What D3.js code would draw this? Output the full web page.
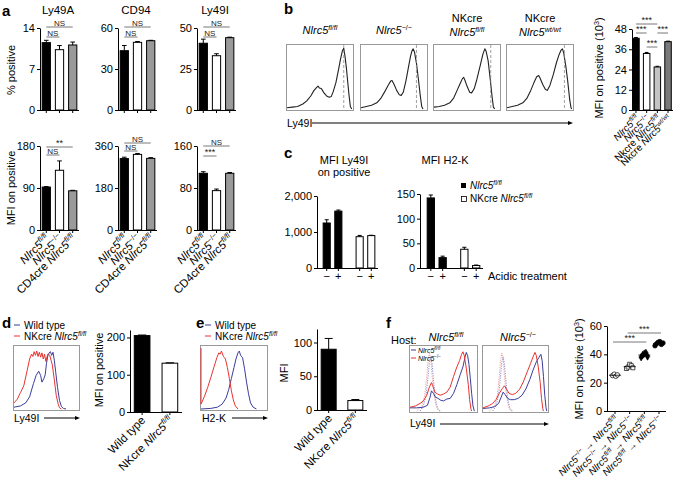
<!DOCTYPE html>
<html>
<head>
<meta charset="utf-8">
<script src="https://cdn.jsdelivr.net/npm/d3@7"></script>
<style>body{margin:0;background:#fff}svg{display:block}</style>
</head>
<body>
<script>
// genotype labels
const FL = '<i>Nlrc5</i><sup>fl/fl</sup>'
const KO = '<i>Nlrc5</i><sup>−/−</sup>'
const WT = '<i>Nlrc5</i><sup>wt/wt</sup>'

// panel a
const aMarkers = ['Ly49A', 'CD94', 'Ly49I']
const aCats = [FL, KO, `CD4cre ${FL}`]
const aPctVals = [[11.5, 10.3, 11.1], [43.4, 49.5, 50.7], [40.7, 33.1, 44.1]]
const aPctErrs = [[0.4, 0.7, 0.5], [3.8, 0.6, 0.3], [2.5, 1.2, 0.3]]
const aPctMax = [14, 60, 50]
const aPctTicks = [[0, 7, 14], [0, 30, 60], [0, 25, 50]]
const aPctSig = [[['NS', 0, 2], ['NS', 0, 1]], [['NS', 0, 2], ['NS', 0, 1]], [['NS', 0, 2], ['NS', 0, 1]]]
const aMfiVals = [[92, 128, 84], [306, 324, 307], [108, 75, 108]]
const aMfiErrs = [[1, 20, 1], [6, 4, 3], [3, 3, 1.5]]
const aMfiMax = [180, 360, 160]
const aMfiTicks = [[0, 90, 180], [0, 180, 360], [0, 80, 160]]
const aMfiSig = [[['**', 0, 2], ['NS', 0, 1]], [['NS', 0, 2], ['NS', 0, 1]], [['NS', 0, 2], ['***', 0, 1]]]

// panel b : histograms (bin, count) and gate position
const bTitles = [['', FL], ['', KO], ['NKcre', FL], ['NKcre', WT]]
const bHists = [
  [[0,2],[8,3],[16,4],[24,8],[30,13],[36,21],[41,30],[45,35],[47,37],[49,34],[52,33],[56,26],[60,21],[64,19],[67,20],[70,28],[74,42],[78,63],[81,80],[84,94],[86,98],[88,84],[90,66],[92,44],[94,22],[96,4],[98,0]],
  [[0,2],[8,4],[16,6],[24,10],[30,17],[36,28],[41,38],[45,45],[47,46],[50,40],[54,30],[58,23],[61,22],[64,27],[68,45],[72,68],[75,85],[77,93],[79,97],[81,92],[84,74],[87,48],[90,20],[92,4],[94,0]],
  [[0,3],[8,4],[16,6],[24,10],[30,18],[35,30],[40,42],[43,49],[45,51],[47,46],[50,37],[54,27],[57,26],[61,33],[65,48],[70,70],[74,88],[77,97],[79,93],[82,78],[85,50],[88,20],[90,3],[92,0]],
  [[0,2],[8,4],[16,6],[24,10],[30,17],[36,30],[41,43],[45,52],[48,54],[50,50],[54,40],[58,32],[61,30],[65,38],[70,55],[75,75],[79,88],[82,95],[84,97],[86,90],[89,70],[92,45],[95,15],[97,2],[98,0]]
]
const bGates = [86, 84, 86, 87]
const bCats = [FL, KO, `Nkcre ${FL}`, `Nkcre ${WT}`]
const bVals = [42.5, 33.5, 25.5, 40.5]
const bErrs = [0.5, 0.6, 0.4, 0.3]
const bSig = [['***', 0, 2], ['***', 0, 1], ['***', 1, 2], ['***', 2, 3]]

// panel c
const cGroups = ['fl', 'nk']
const cTreat = ['−', '+']
const cLyVals = [[1250, 1580], [870, 900]]
const cLyErrs = [[90, 30], [35, 10]]
const cH2Vals = [[142, 21], [38, 5]]
const cH2Errs = [[6, 3], [4, 1]]

// panel d / e
const dWT = [[0,3],[10,5],[18,10],[24,20],[30,42],[34,55],[38,62],[41,55],[43,44],[46,50],[48,56],[50,75],[52,87],[54,92],[56,94],[58,88],[60,93],[62,80],[64,62],[67,35],[70,14],[73,4],[76,1],[80,0]]
const dNK = [[0,10],[5,16],[10,27],[15,38],[20,62],[24,82],[27,90],[29,86],[31,94],[33,88],[35,95],[37,86],[39,93],[41,85],[43,92],[45,82],[47,90],[49,78],[52,90],[55,88],[57,80],[59,72],[62,48],[65,22],[68,8],[70,2],[73,0]]
const dCats = ['Wild type', `NKcre ${FL}`]
const dVals = [205, 131]
const dErrs = [1.5, 1]
const eWT = [[0,0],[15,1],[25,3],[32,8],[38,18],[42,32],[46,50],[50,68],[53,82],[56,92],[58,95],[60,88],[63,84],[66,66],[69,44],[72,25],[75,10],[79,3],[84,0]]
const eNK = [[0,100],[0,8],[5,20],[10,35],[15,52],[20,70],[24,84],[27,92],[29,90],[31,95],[34,86],[37,82],[40,68],[43,50],[46,30],[49,15],[52,5],[56,0]]
const eVals = [90, 14]
const eErrs = [16, 1.5]

// panel f
const fHostTitles = [FL, KO]
const fHists = [
  { fl: [[0,5],[10,5],[20,6],[26,9],[30,22],[32,32],[35,28],[38,22],[42,20],[46,17],[50,16],[55,19],[60,20],[65,28],[70,42],[75,58],[79,70],[82,85],[84,93],[86,88],[88,74],[90,52],[92,28],[94,8],[96,0]],
    ko: [[0,6],[8,8],[15,12],[20,16],[25,25],[29,38],[32,45],[34,40],[37,30],[41,27],[45,25],[50,27],[55,30],[60,38],[65,55],[70,70],[74,80],[77,90],[79,94],[81,88],[84,68],[87,42],[89,18],[91,3],[92,0]] },
  { fl: [[0,4],[10,5],[18,7],[24,12],[28,22],[31,30],[34,26],[38,20],[42,18],[48,18],[54,20],[60,25],[66,35],[72,50],[77,65],[82,78],[86,85],[89,90],[91,80],[93,55],[95,25],[97,5],[98,0]],
    ko: [[0,5],[8,8],[15,12],[20,18],[25,28],[30,36],[33,40],[36,35],[40,28],[45,26],[50,28],[56,34],[62,46],[68,62],[73,75],[77,86],[80,93],[82,88],[85,70],[88,45],[90,20],[92,4],[93,0]] }
]
const fIsoR = [[10,0],[18,8],[22,25],[25,55],[27,80],[29,92],[31,84],[33,55],[36,25],[39,8],[42,1],[45,0]]
const fIsoB = [[15,0],[20,8],[24,25],[27,55],[29,78],[31,86],[33,75],[35,50],[38,20],[41,5],[45,0]]
const fCats = [`${KO} → ${FL}`, `${KO} → ${KO}`, `${FL} → ${FL}`, `${FL} → ${KO}`]
const fPoints = [[25, 26, 24.5, 25.5], [30, 31, 33, 32, 30.5], [38, 39.5, 40.5, 41, 38.5], [46, 47.5, 48.5, 49, 47, 48]]
const fSig = [['***', 0, 2], ['***', 1, 3]]

const FONT = '"Liberation Sans", Arial, Helvetica, sans-serif'
const BLUE = '#3b3c9c'
const RED = '#e8332f'

const svg = d3.select('body').append('svg')
  .attr('width', 685).attr('height', 485)
  .attr('font-family', FONT)
svg.append('rect').attr('width', 685).attr('height', 485).attr('fill', '#fff')

// text with <i> and <sup> bits
function rich (sel, str, fs) {
  const parts = str.split(/(<i>.*?<\/i>|<sup>.*?<\/sup>)/).filter(s => s.length)
  let back = 0
  parts.forEach(p => {
    const t = sel.append('tspan')
    const it = p.match(/^<i>(.*)<\/i>$/)
    const su = p.match(/^<sup>(.*)<\/sup>$/)
    if (su) {
      t.text(su[1]).attr('font-size', fs * 0.65).attr('dy', -fs * 0.4)
      if (/fl|wt/.test(su[1])) t.attr('font-style', 'italic')
      back = fs * 0.4
    } else {
      t.text(it ? it[1] : p)
      if (it) t.attr('font-style', 'italic')
      if (back) { t.attr('dy', back); back = 0 }
    }
  })
  return sel
}

function text (x, y, str, fs, o = {}) {
  const t = svg.append('text').attr('x', x).attr('y', y)
    .attr('font-size', fs).attr('text-anchor', o.anchor || 'start')
  if (o.rotate) t.attr('transform', `rotate(${o.rotate},${x},${y})`)
  if (o.bold) t.attr('font-weight', 'bold')
  if (o.fill) t.attr('fill', o.fill)
  return rich(t, str, fs)
}

function yAxis (ax, y, ticks, fmt) {
  svg.append('g').attr('transform', `translate(${ax},0)`)
    .call(d3.axisLeft(y).tickValues(ticks).tickSize(3).tickSizeOuter(0).tickPadding(2).tickFormat(fmt || (d => d)))
    .call(a => a.attr('font-size', 11).attr('font-family', FONT))
}

function xLine (x1, x2, yy) {
  svg.append('line').attr('x1', x1).attr('x2', x2).attr('y1', yy + 0.5).attr('y2', yy + 0.5).attr('stroke', '#000')
}

function errBars (xs, w, vals, errs, y) {
  vals.forEach((v, i) => {
    if (!errs[i]) return
    svg.append('line').attr('x1', xs[i]).attr('x2', xs[i]).attr('y1', y(v)).attr('y2', y(v + errs[i])).attr('stroke', '#000')
    svg.append('line').attr('x1', xs[i] - w / 2).attr('x2', xs[i] + w / 2).attr('y1', y(v + errs[i])).attr('y2', y(v + errs[i])).attr('stroke', '#000')
  })
}

function bars (o) {
  const y = d3.scaleLinear().domain([0, o.max]).range([o.bottom, o.top])
  const x = d3.scaleBand().domain(d3.range(o.vals.length)).range(o.xr)
    .paddingInner(o.pi ?? 0.3).paddingOuter(o.po ?? 0.05)
  const cx = i => x(i) + x.bandwidth() / 2
  yAxis(o.ax, y, o.ticks, o.fmt)
  svg.append('g').selectAll('rect').data(o.vals).enter().append('rect')
    .attr('x', (d, i) => x(i) + 0.5).attr('y', d => y(d))
    .attr('width', x.bandwidth() - 1).attr('height', d => o.bottom - y(d))
    .attr('fill', (d, i) => o.fills[i]).attr('stroke', '#000')
  xLine(o.ax, o.xr[1] + 1, o.bottom)
  svg.append('g').selectAll('line').data(o.vals).enter().append('line')
    .attr('x1', (d, i) => cx(i)).attr('x2', (d, i) => cx(i))
    .attr('y1', o.bottom).attr('y2', o.bottom + 3).attr('stroke', '#000')
  errBars(o.vals.map((d, i) => cx(i)), x.bandwidth() * 0.5, o.vals, o.errs, y)
  if (o.labels) {
    o.labels.forEach((l, i) => text(cx(i) + 4, o.bottom + 9, l, o.lfs || 10, { anchor: 'end', rotate: -45 }))
  }
  return { x, y, cx }
}

function sig (x1, x2, yy, t) {
  svg.append('line').attr('x1', x1).attr('x2', x2).attr('y1', yy).attr('y2', yy)
    .attr('stroke', '#555').attr('stroke-width', 0.8)
  svg.append('text').attr('x', (x1 + x2) / 2).attr('y', yy - 1.5).attr('text-anchor', 'middle')
    .attr('font-size', t === 'NS' ? 8 : 9).attr('fill', '#222').text(t)
}

function histo (x0, y0, w, h, curves) {
  svg.append('rect').attr('x', x0 + 0.5).attr('y', y0 + 0.5).attr('width', w).attr('height', h)
    .attr('fill', 'none').attr('stroke', '#999')
  const x = d3.scaleLinear().domain([0, 100]).range([x0 + 1, x0 + w])
  const y = d3.scaleLinear().domain([0, 100]).range([y0 + h - 1, y0 + 3])
  const line = d3.line().x(d => x(d[0])).y(d => y(d[1]))
  curves.forEach(c => {
    svg.append('path').attr('d', line(c.data)).attr('fill', 'none')
      .attr('stroke', c.color).attr('stroke-width', c.w || 1)
      .attr('stroke-dasharray', c.dash || null).attr('stroke-linejoin', 'round')
  })
  return { x, y }
}

function arrow (x1, x2, yy) {
  svg.append('line').attr('x1', x1).attr('x2', x2 - 3).attr('y1', yy).attr('y2', yy).attr('stroke', '#000')
  svg.append('path').attr('d', `M${x2},${yy}l-5,-2v4z`).attr('fill', '#000')
}

// ---------- a ----------
text(2, 16, 'a', 15, { bold: true })
const aAx = [40, 118, 197]
const aFills = ['#000', '#fff', '#9a9a9a']
const aTopLv = [[-1, 9], [-1, 9], [-1, 9]]
const aBotLv = [[1, 9], [-3, 5], [0, 10]]
aMarkers.forEach((m, k) => {
  const ax = aAx[k]
  text(ax + 18, 14, m, 11.5, { anchor: 'middle' })
  const t = bars({ ax, xr: [ax + 1, ax + 38], top: 28, bottom: 110, max: aPctMax[k], ticks: aPctTicks[k], vals: aPctVals[k], errs: aPctErrs[k], fills: aFills })
  aPctSig[k].forEach((s, j) => sig(t.cx(s[1]), t.cx(s[2]), 28 + aTopLv[k][j], s[0]))
  const b = bars({ ax, xr: [ax + 1, ax + 38], top: 146, bottom: 230, max: aMfiMax[k], ticks: aMfiTicks[k], vals: aMfiVals[k], errs: aMfiErrs[k], fills: aFills, labels: aCats, lfs: 11.5 })
  aMfiSig[k].forEach((s, j) => sig(b.cx(s[1]), b.cx(s[2]), 146 + aBotLv[k][j], s[0]))
})
text(15, 70, '% positive', 11, { anchor: 'middle', rotate: -90 })
text(15, 188, 'MFI on positive', 11, { anchor: 'middle', rotate: -90 })

// ---------- b ----------
text(284, 14, 'b', 15, { bold: true })
const bBox = [286, 360, 433, 506]
bHists.forEach((h, k) => {
  const hx = histo(bBox[k], 44, 67, 66, [{ data: h, color: '#222', w: 1.1 }])
  svg.append('line').attr('x1', hx.x(bGates[k])).attr('x2', hx.x(bGates[k]))
    .attr('y1', 45).attr('y2', 110).attr('stroke', '#888').attr('stroke-dasharray', '3,2').attr('stroke-width', 0.8)
  const cx = bBox[k] + 34
  if (bTitles[k][0]) {
    text(cx, 22, bTitles[k][0], 11, { anchor: 'middle' })
    text(cx, 36, bTitles[k][1], 11, { anchor: 'middle' })
  } else {
    text(cx, 34, bTitles[k][1], 11, { anchor: 'middle' })
  }
})
text(287, 127, 'Ly49I', 10.5)
arrow(312, 573, 123)
const bb = bars({ ax: 632, xr: [632, 672], pi: 0.3, po: 0.02, top: 29, bottom: 110, max: 48, ticks: [0, 12, 24, 36, 48], vals: bVals, errs: bErrs, fills: ['#000', '#fff', '#c4c4c4', '#7a7a7a'], labels: bCats, lfs: 10 })
const bLv = [-5, 4, 18, 4]
bSig.forEach((s, j) => sig(bb.cx(s[1]), bb.cx(s[2]), 29 + bLv[j], s[0]))
text(603, 68, 'MFI on positive (10<sup>3</sup>)', 11, { anchor: 'middle', rotate: -90 })

// ---------- c ----------
text(284, 158, 'c', 15, { bold: true })
function grouped (o) {
  const y = d3.scaleLinear().domain([0, o.max]).range([o.bottom, o.top])
  const gx = d3.scaleBand().domain(cGroups).range(o.xr).paddingInner(0.4).paddingOuter(0.05)
  const ix = d3.scaleBand().domain(cTreat).range([0, gx.bandwidth()]).paddingInner(0.3)
  yAxis(o.ax, y, o.ticks, o.fmt)
  xLine(o.ax, o.xr[1] + 1, o.bottom)
  cGroups.forEach((gname, gi) => {
    const xs = cTreat.map(t => gx(gname) + ix(t) + ix.bandwidth() / 2)
    svg.append('g').selectAll('rect').data(o.vals[gi]).enter().append('rect')
      .attr('x', (d, i) => gx(gname) + ix(cTreat[i]) + 0.5).attr('y', d => y(d))
      .attr('width', ix.bandwidth() - 1).attr('height', d => o.bottom - y(d))
      .attr('fill', gi ? '#fff' : '#000').attr('stroke', '#000')
    errBars(xs, ix.bandwidth() * 0.5, o.vals[gi], o.errs[gi], y)
    xs.forEach((xx, i) => {
      svg.append('line').attr('x1', xx).attr('x2', xx).attr('y1', o.bottom).attr('y2', o.bottom + 3).attr('stroke', '#000')
      svg.append('text').attr('x', xx).attr('y', o.bottom + 12).attr('text-anchor', 'middle').attr('font-size', 11).text(cTreat[i])
    })
  })
}
grouped({ ax: 317, xr: [321, 377], top: 196, bottom: 268, max: 2000, ticks: [0, 1000, 2000], fmt: d3.format(','), vals: cLyVals, errs: cLyErrs })
grouped({ ax: 420, xr: [425, 482], top: 194, bottom: 268, max: 150, ticks: [0, 50, 100, 150], vals: cH2Vals, errs: cH2Errs })
text(344, 164, 'MFI Ly49I', 11, { anchor: 'middle' })
text(344, 176, 'on positive', 11, { anchor: 'middle' })
text(445, 164, 'MFI H2-K', 11, { anchor: 'middle' })
svg.append('rect').attr('x', 461).attr('y', 183).attr('width', 5).attr('height', 5).attr('fill', '#000')
text(470, 189, FL, 10)
svg.append('rect').attr('x', 461.5).attr('y', 196.5).attr('width', 5).attr('height', 5).attr('fill', '#fff').attr('stroke', '#000').attr('stroke-width', 0.8)
text(470, 202, `NKcre ${FL}`, 10)
text(488, 280, 'Acidic treatment', 11)

// ---------- d ----------
text(2, 328, 'd', 15, { bold: true })
function legend2 (x, y, a, b) {
  svg.append('line').attr('x1', x).attr('x2', x + 6).attr('y1', y).attr('y2', y).attr('stroke', BLUE)
  text(x + 10, y + 3.5, a, 10)
  svg.append('line').attr('x1', x).attr('x2', x + 6).attr('y1', y + 11).attr('y2', y + 11).attr('stroke', RED)
  text(x + 10, y + 14.5, b, 10)
}
legend2(14, 325, 'Wild type', `NKcre ${FL}`)
histo(13, 345, 66, 65, [{ data: dWT, color: BLUE }, { data: dNK, color: RED }])
text(14, 422, 'Ly49I', 10.5)
arrow(44, 80, 418)
bars({ ax: 130, xr: [131, 181], pi: 0.4, po: 0.1, top: 330, bottom: 412, max: 220, ticks: [0, 100, 200], vals: dVals, errs: dErrs, fills: ['#000', '#fff'], labels: dCats, lfs: 11.5 })
text(103, 370, 'MFI on positive', 11, { anchor: 'middle', rotate: -90 })

// ---------- e ----------
text(196, 328, 'e', 15, { bold: true })
legend2(205, 325, 'Wild type', `NKcre ${FL}`)
histo(200, 345, 67, 65, [{ data: eWT, color: BLUE }, { data: eNK, color: RED }])
text(202, 422, 'H2-K', 10.5)
arrow(232, 268, 418)
bars({ ax: 317, xr: [318, 366], pi: 0.4, po: 0.1, top: 329, bottom: 410, max: 120, ticks: [0, 50, 100], vals: eVals, errs: eErrs, fills: ['#000', '#fff'], labels: dCats, lfs: 11.5 })
text(288, 373, 'MFI', 11, { anchor: 'middle', rotate: -90 })

// ---------- f ----------
text(386, 328, 'f', 15, { bold: true })
text(391, 344, 'Host:', 11)
const fBox = [[409, 68], [482, 66]]
fHists.forEach((h, k) => {
  histo(fBox[k][0], 345, fBox[k][1], 67, [
    { data: fIsoR, color: '#f19a9a', dash: '1.2,1.2' },
    { data: fIsoB, color: '#8f8fd0', dash: '1.2,1.2' },
    { data: h.fl, color: BLUE },
    { data: h.ko, color: RED }
  ])
  text(fBox[k][0] + fBox[k][1] / 2 + 3, 341, fHostTitles[k], 11, { anchor: 'middle' })
})
svg.append('line').attr('x1', 411).attr('x2', 416).attr('y1', 350).attr('y2', 350).attr('stroke', BLUE)
text(418, 352.5, FL, 7)
svg.append('line').attr('x1', 411).attr('x2', 416).attr('y1', 358).attr('y2', 358).attr('stroke', RED)
text(418, 360.5, KO, 7)
text(410, 427, 'Ly49I', 10.5)
arrow(440, 549, 424)

const fy = d3.scaleLinear().domain([0, 60]).range([411, 326])
const fx = d3.scalePoint().domain(d3.range(4)).range([615, 659])
yAxis(607, fy, [0, 20, 40, 60])
xLine(607, 666, 411)
const fSym = [
  { type: d3.symbolCircle, fill: '#fff' },
  { type: d3.symbolSquare, fill: '#fff' },
  { type: d3.symbolDiamond, fill: '#000' },
  { type: d3.symbolCircle, fill: '#000' }
]
fPoints.forEach((pts, gi) => {
  const cx = fx(gi)
  svg.append('line').attr('x1', cx).attr('x2', cx).attr('y1', 411).attr('y2', 414).attr('stroke', '#000')
  svg.append('g').selectAll('path').data(pts).enter().append('path')
    .attr('d', d3.symbol().type(fSym[gi].type).size(16))
    .attr('transform', (d, i) => `translate(${cx + (i - (pts.length - 1) / 2) * 1.6},${fy(d)})`)
    .attr('fill', fSym[gi].fill).attr('stroke', '#000').attr('stroke-width', 0.7)
  const m = d3.mean(pts)
  svg.append('line').attr('x1', cx - 6).attr('x2', cx + 6).attr('y1', fy(m)).attr('y2', fy(m)).attr('stroke', '#000').attr('stroke-width', 0.8)
  text(cx + 4, 420, fCats[gi], 10, { anchor: 'end', rotate: -45 })
})
const fLv = [342, 333]
fSig.forEach((s, j) => sig(fx(s[1]) - 2, fx(s[2]) + 2, fLv[j], s[0]))
text(583, 369, 'MFI on positive (10<sup>3</sup>)', 11, { anchor: 'middle', rotate: -90 })
</script>
</body>
</html>
